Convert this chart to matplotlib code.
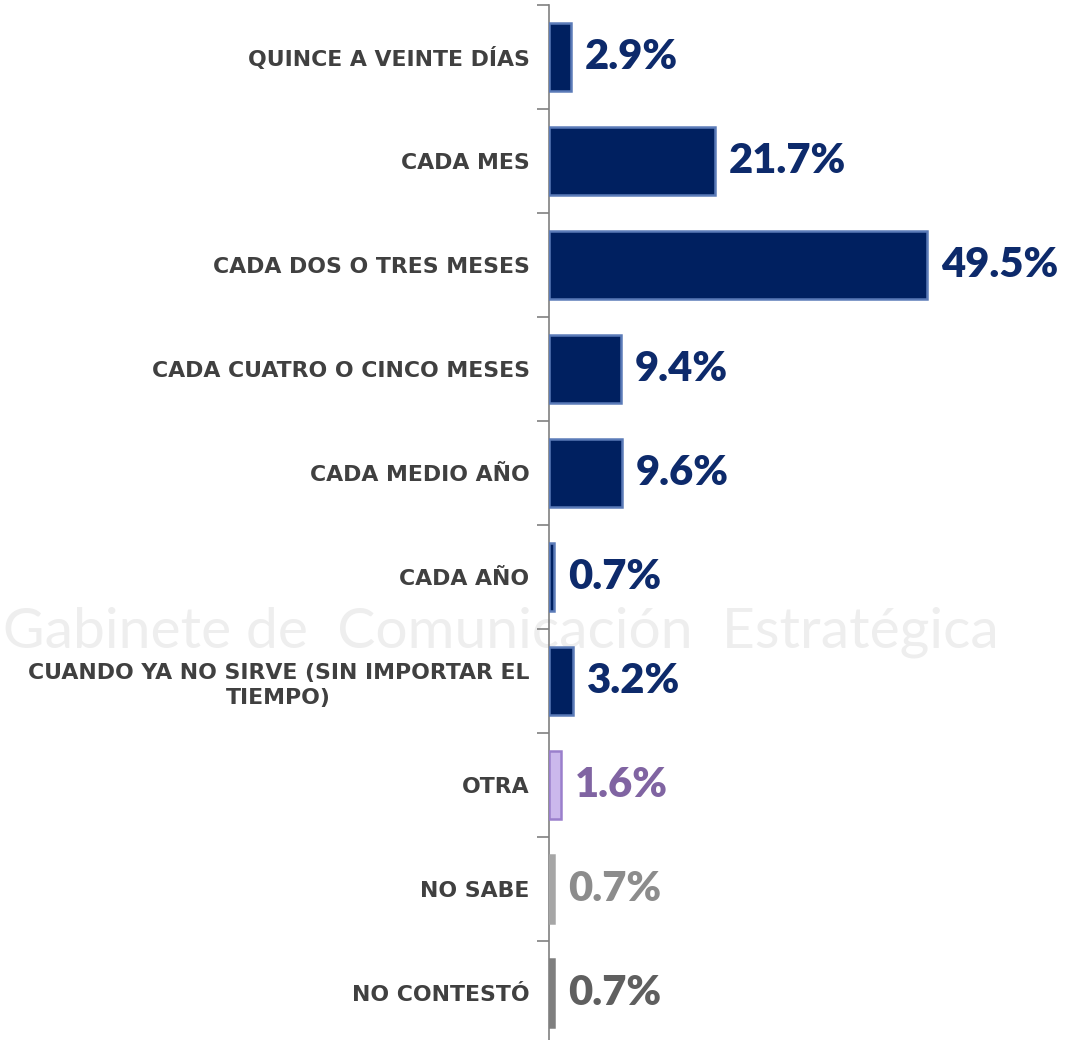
import matplotlib.pyplot as plt
import numpy as np

# ----------------------------------------------------
# データ
# ----------------------------------------------------
categorias = [
    "QUINCE A VEINTE DÍAS",
    "CADA MES",
    "CADA DOS O TRES MESES",
    "CADA CUATRO O CINCO MESES",
    "CADA MEDIO AÑO",
    "CADA AÑO",
    "CUANDO YA NO SIRVE (SIN IMPORTAR EL\nTIEMPO)",
    "OTRA",
    "NO SABE",
    "NO CONTESTÓ",
]
valores = [2.9, 21.7, 49.5, 9.4, 9.6, 0.7, 3.2, 1.6, 0.7, 0.7]

NAVY = "#002060"
colores_barra = [NAVY] * 7 + ["#CBB8EC", "#A6A6A6", "#7F7F7F"]
colores_borde = ["#5B7BB8"] * 7 + ["#9A7FCC", "#A6A6A6", "#7F7F7F"]
colores_texto = ["#0D2A6B"] * 7 + ["#8064A2", "#8C8C8C", "#5F5F5F"]

plt.rcParams['font.family'] = ['Lato', 'DejaVu Sans']

fig = plt.figure(figsize=(10.66, 10.4), dpi=100)

# 透かし (ウォーターマーク) は背景の軸に描く
bg = fig.add_axes([0, 0, 1, 1], zorder=-1)
bg.axis('off')
bg.text(0.003, 0.392, "Gabinete de  Comunicación  Estratégica", fontsize=41,
        color="#EEEEEE", ha='left', va='center', transform=bg.transAxes)

ax = fig.add_axes([0.515, -0.0048, 0.485, 1.0])
ax.patch.set_alpha(0)

y = np.arange(len(categorias))
ax.barh(y, valores, height=0.65, color=colores_barra, edgecolor=colores_borde,
        linewidth=1.8, zorder=3)

for i, v in enumerate(valores):
    ax.annotate(f"{v}%", xy=(v, i), xytext=(10, 0), textcoords='offset points',
                ha='left', va='center', fontsize=30, fontweight='heavy',
                color=colores_texto[i])

ax.set_xlim(0, 67.7)
ax.set_ylim(len(categorias) - 0.5, -0.5)
ax.set_yticks(y)
ax.set_yticklabels(categorias, fontsize=15.8, fontweight='bold', color="#404040",
                   ha='right', multialignment='center', family='DejaVu Sans',
                   linespacing=1.3)
ax.set_yticks(np.arange(-0.5, len(categorias), 1), minor=True)
ax.tick_params(axis='y', which='major', length=0, pad=14)
ax.tick_params(axis='y', which='minor', length=9, color="#808080", width=1.2)
ax.set_xticks([])

for s in ['top', 'right', 'bottom']:
    ax.spines[s].set_visible(False)
ax.spines['left'].set_color("#808080")
ax.spines['left'].set_linewidth(1.2)

fig.savefig("out.png", dpi=100)
